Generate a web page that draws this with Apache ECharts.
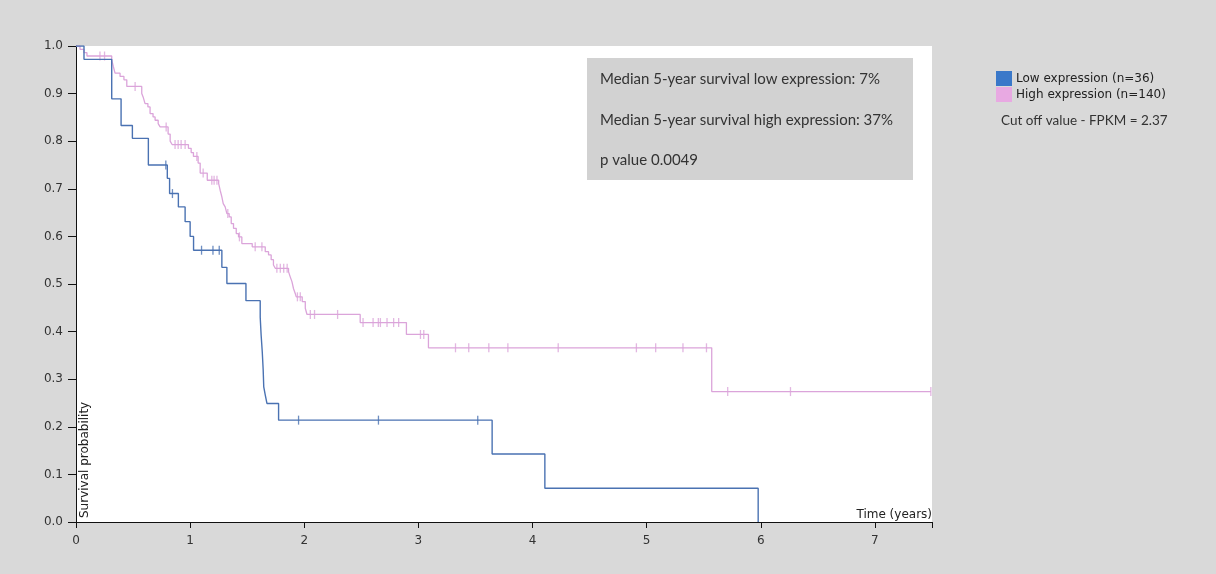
<!DOCTYPE html>
<html><head><meta charset="utf-8">
<script src="https://cdn.jsdelivr.net/npm/echarts/dist/echarts.min.js"></script>
<style>html,body{margin:0;padding:0;background:#d9d9d9}#c{width:1216px;height:574px}</style>
</head><body><div id="c"></div>
<script>
// Low expression (n=36): event times (years) and survival after each event
const lowTimes = [0, 0.07, 0.313, 0.395, 0.494, 0.634, 0.80, 0.82, 0.897, 0.956, 1.0, 1.03, 1.278, 1.322, 1.489, 1.614, 1.622, 1.632, 1.64, 1.645, 1.658, 1.673, 1.775, 3.646, 4.108, 5.977];
const lowSurv  = [1, 0.972, 0.889, 0.833, 0.806, 0.75, 0.722, 0.69, 0.662, 0.631, 0.60, 0.571, 0.535, 0.501, 0.465, 0.43, 0.393, 0.357, 0.32, 0.284, 0.267, 0.249, 0.214, 0.143, 0.071, 0];
const lowCensor = [0.787, 0.845, 1.1, 1.2, 1.255, 1.95, 2.65, 3.52];

// High expression (n=140)
const highTimes = [0, 0.035, 0.07, 0.096, 0.313, 0.327, 0.342, 0.386, 0.42, 0.445, 0.576, 0.588, 0.605, 0.63, 0.649, 0.675, 0.693, 0.72, 0.737, 0.807, 0.825, 0.842, 0.985, 1.009, 1.029, 1.07, 1.088, 1.15, 1.25, 1.263, 1.278, 1.29, 1.307, 1.322, 1.342, 1.36, 1.38, 1.404, 1.424, 1.453, 1.544, 1.658, 1.687, 1.71, 1.73, 1.746, 1.862, 1.877, 1.892, 1.906, 1.921, 1.93, 1.982, 2.009, 2.024, 2.49, 2.895, 3.088, 5.57];
const highSurv  = [1, 0.993, 0.986, 0.979, 0.971, 0.957, 0.943, 0.936, 0.929, 0.915, 0.90, 0.893, 0.879, 0.872, 0.858, 0.851, 0.844, 0.837, 0.83, 0.815, 0.80, 0.793, 0.785, 0.776, 0.768, 0.754, 0.733, 0.718, 0.711, 0.697, 0.683, 0.669, 0.662, 0.648, 0.641, 0.627, 0.617, 0.606, 0.599, 0.585, 0.578, 0.568, 0.561, 0.551, 0.54, 0.533, 0.526, 0.515, 0.505, 0.49, 0.48, 0.473, 0.463, 0.449, 0.436, 0.419, 0.394, 0.366, 0.274];
const highCensor = [0.21, 0.25, 0.518, 0.79, 0.868, 0.895, 0.921, 0.956, 1.059, 1.114, 1.19, 1.21, 1.235, 1.33, 1.432, 1.57, 1.629, 1.76, 1.79, 1.82, 1.85, 1.94, 1.965, 2.053, 2.09, 2.292, 2.515, 2.603, 2.649, 2.667, 2.725, 2.783, 2.827, 3.018, 3.047, 3.325, 3.441, 3.617, 3.784, 4.225, 4.91, 5.079, 5.318, 5.524, 5.71, 6.26, 7.49];

const seriesNames = ['Low expression (n=36)', 'High expression (n=140)'];
const statLines = ['Median 5-year survival low expression: 7%', 'Median 5-year survival high expression: 37%', 'p value 0.0049'];
const cutoffText = 'Cut off value - FPKM = 2.37';
const xTicks = [0, 1, 2, 3, 4, 5, 6, 7];

function survAt(times, surv, t) {
  let s = surv[0];
  for (let i = 0; i < times.length; i++) { if (times[i] <= t) s = surv[i]; }
  return s;
}
const lowLine = lowTimes.map((t, i) => [t, lowSurv[i]]);
const highLine = highTimes.map((t, i) => [t, highSurv[i]]);
const highLast = Math.max(...highCensor);
highLine.push([highLast, survAt(highTimes, highSurv, highLast)]);
const lowTicks = lowCensor.map(t => [t, survAt(lowTimes, lowSurv, t)]);
const highTicks = highCensor.map(t => [t, survAt(highTimes, highSurv, t)]);

const BLUE = '#4a72b2', BLUE_L = '#3a78c9', PINK = '#dba4da', PINK_L = '#e8a9e2';
const font = '"DejaVu Sans", Verdana, sans-serif';
const boxFont = '15px Lato, "Open Sans", sans-serif';

const chart = echarts.init(document.getElementById('c'), null, {renderer: 'canvas'});
chart.setOption({
  backgroundColor: '#d9d9d9',
  animation: false,
  grid: {left: 76, right: 284, top: 46, bottom: 52, show: true, backgroundColor: '#ffffff', borderWidth: 0},
  xAxis: [{
    type: 'value', min: 0, max: 7.5, interval: 1,
    name: 'Time (years)', nameLocation: 'end', nameGap: 0,
    nameTextStyle: {align: 'right', verticalAlign: 'bottom', fontFamily: font, fontSize: 12, color: '#222', padding: [0, 0, 1, 0]},
    axisLine: {show: true, lineStyle: {color: '#111', width: 1}},
    axisTick: {show: true, length: 6, lineStyle: {color: '#111'}},
    axisLabel: {fontFamily: font, fontSize: 12, color: '#333', margin: 13, formatter: v => xTicks.includes(v) ? String(v) : ''},
    splitLine: {show: false}
  }, {
    type: 'value', min: 0, max: 7.5, interval: 7.5, position: 'bottom',
    axisLine: {show: false}, axisTick: {show: true, length: 6, lineStyle: {color: '#111'}},
    axisLabel: {show: false}, splitLine: {show: false}
  }],
  yAxis: {
    type: 'value', min: 0, max: 1, interval: 0.1,
    name: 'Survival probability', nameLocation: 'start', nameGap: -1, nameRotate: 90,
    nameTextStyle: {align: 'left', verticalAlign: 'top', fontFamily: font, fontSize: 12, color: '#222', padding: [3, 0, 0, 3]},
    axisLine: {show: true, lineStyle: {color: '#111', width: 1}},
    axisTick: {show: true, length: 8, lineStyle: {color: '#111'}},
    axisLabel: {fontFamily: font, fontSize: 12, color: '#333', margin: 13, formatter: v => v.toFixed(1)},
    splitLine: {show: false}
  },
  legend: {
    orient: 'vertical', left: 996, top: 71, padding: 0, itemGap: 1, itemWidth: 16, itemHeight: 15,
    icon: 'rect', data: seriesNames, selectedMode: false,
    textStyle: {fontFamily: font, fontSize: 12, color: '#222', padding: [0, 0, 0, -1]}
  },
  graphic: [
    {type: 'rect', left: 587, top: 58, shape: {width: 326, height: 122}, style: {fill: '#d2d2d2'}, z: 10},
    {type: 'text', x: 600, y: 79, z: 11, style: {text: statLines[0], font: boxFont, fill: '#333', verticalAlign: 'middle'}},
    {type: 'text', x: 600, y: 120, z: 11, style: {text: statLines[1], font: boxFont, fill: '#333', verticalAlign: 'middle'}},
    {type: 'text', x: 600, y: 160, z: 11, style: {text: statLines[2], font: boxFont, fill: '#333', verticalAlign: 'middle'}},
    {type: 'text', x: 1001, y: 121, z: 11, style: {text: cutoffText, font: '13.5px Lato, "Open Sans", sans-serif', fill: '#333', verticalAlign: 'middle'}}
  ],
  series: [
    {name: seriesNames[0], type: 'line', step: 'end', data: lowLine, showSymbol: false, symbol: 'none',
     itemStyle: {color: BLUE_L}, lineStyle: {color: BLUE, width: 1.4}, z: 3},
    {name: seriesNames[1], type: 'line', step: 'end', data: highLine, showSymbol: false, symbol: 'none',
     itemStyle: {color: PINK_L}, lineStyle: {color: PINK, width: 1.3}, z: 2},
    {name: seriesNames[0], type: 'scatter', data: lowTicks, symbol: 'rect', symbolSize: [1.3, 9],
     itemStyle: {color: BLUE}, z: 3},
    {name: seriesNames[1], type: 'scatter', data: highTicks, symbol: 'rect', symbolSize: [1.3, 9],
     itemStyle: {color: PINK}, z: 2}
  ]
});
</script>
</body></html>
